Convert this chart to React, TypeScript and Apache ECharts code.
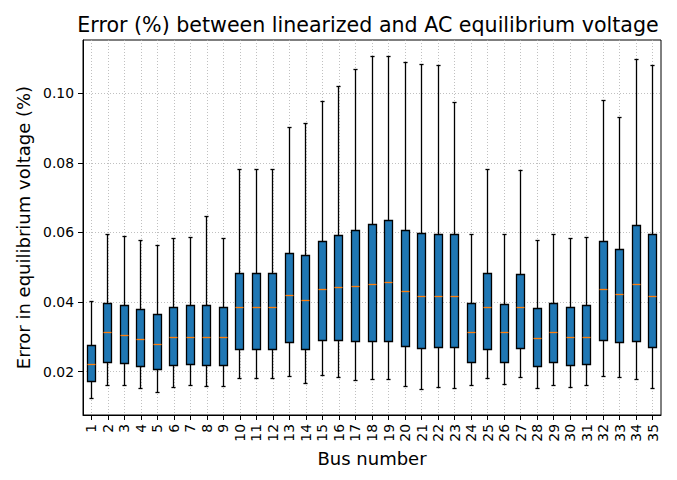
import React, { useEffect, useRef } from "react";
import * as echarts from "echarts";

const buses = [1, 2, 3, 4, 5, 6, 7, 8, 9, 10, 11, 12, 13, 14, 15, 16, 17, 18, 19, 20, 21, 22, 23, 24, 25, 26, 27, 28, 29, 30, 31, 32, 33, 34, 35];

const whiskerLow = [0.0123, 0.0161, 0.0161, 0.0151, 0.0141, 0.0155, 0.0161, 0.0158, 0.0158, 0.0181, 0.0181, 0.0181, 0.0187, 0.0166, 0.0189, 0.0184, 0.0175, 0.0178, 0.0178, 0.0158, 0.0149, 0.0155, 0.0152, 0.0161, 0.0181, 0.0164, 0.0184, 0.0152, 0.0161, 0.0155, 0.0161, 0.0187, 0.0184, 0.0178, 0.0152];
const quartile1 = [0.0172, 0.0227, 0.0224, 0.0215, 0.0207, 0.0218, 0.0221, 0.0218, 0.0218, 0.0264, 0.0264, 0.0264, 0.0284, 0.0264, 0.0290, 0.0290, 0.0287, 0.0287, 0.0287, 0.0273, 0.0267, 0.0270, 0.0270, 0.0227, 0.0264, 0.0227, 0.0267, 0.0215, 0.0227, 0.0218, 0.0221, 0.0290, 0.0284, 0.0287, 0.0270];
const median = [0.0221, 0.0313, 0.0304, 0.0293, 0.0279, 0.0299, 0.0299, 0.0299, 0.0299, 0.0385, 0.0385, 0.0385, 0.0419, 0.0405, 0.0437, 0.0442, 0.0445, 0.0451, 0.0457, 0.0431, 0.0416, 0.0416, 0.0416, 0.0313, 0.0385, 0.0313, 0.0385, 0.0296, 0.0313, 0.0299, 0.0299, 0.0437, 0.0422, 0.0451, 0.0416];
const quartile3 = [0.0276, 0.0396, 0.0391, 0.0379, 0.0365, 0.0385, 0.0391, 0.0391, 0.0385, 0.0483, 0.0483, 0.0483, 0.0540, 0.0533, 0.0575, 0.0592, 0.0606, 0.0623, 0.0635, 0.0606, 0.0598, 0.0595, 0.0595, 0.0396, 0.0483, 0.0394, 0.0480, 0.0382, 0.0396, 0.0385, 0.0391, 0.0575, 0.0552, 0.0621, 0.0595];
const whiskerHigh = [0.0401, 0.0595, 0.0589, 0.0577, 0.0563, 0.0583, 0.0586, 0.0646, 0.0583, 0.0781, 0.0781, 0.0781, 0.0902, 0.0914, 0.0977, 0.1020, 0.1069, 0.1107, 0.1107, 0.1089, 0.1083, 0.1080, 0.0974, 0.0595, 0.0781, 0.0595, 0.0779, 0.0577, 0.0595, 0.0583, 0.0586, 0.0980, 0.0931, 0.1098, 0.1080];

const yTicks = [0.02, 0.04, 0.06, 0.08, 0.1];

const FONT = "DejaVu Sans";

export default function App() {
  const ref = useRef<HTMLDivElement>(null);
  useEffect(() => {
    if (!ref.current) return;
    const chart = echarts.init(ref.current, null, { renderer: "svg" });
    const data = buses.map((b, i) => [b, whiskerLow[i], quartile1[i], median[i], quartile3[i], whiskerHigh[i]]);
    const gridLine = { show: true, lineStyle: { type: [1, 2], color: "#b0b0b0", width: 0.8 } };
    chart.setOption({
      animation: false,
      backgroundColor: "#ffffff",
      title: {
        text: "Error (%) between linearized and AC equilibrium voltage",
        left: 363,
        top: 9,
        textAlign: "center",
        textStyle: { fontFamily: FONT, fontSize: 20.6, fontWeight: "normal", color: "#000" },
      },
      grid: { left: 83, right: 16, top: 40, bottom: 65, show: true, borderColor: "#000", borderWidth: 1, backgroundColor: "transparent" },
      xAxis: {
        type: "value",
        min: 0.5,
        max: 35.5,
        name: "Bus number",
        nameLocation: "middle",
        nameGap: 32,
        nameTextStyle: { fontFamily: FONT, fontSize: 18, color: "#000" },
        axisLine: { onZero: false, lineStyle: { color: "#000", width: 1 } },
        axisTick: { customValues: buses, length: 5, lineStyle: { color: "#000", width: 1 } },
        axisLabel: { customValues: buses, rotate: 90, margin: 9, fontFamily: FONT, fontSize: 13.9, color: "#000", formatter: (v: number) => String(v) },
        splitLine: gridLine,
      },
      yAxis: {
        type: "value",
        min: 0.0075,
        max: 0.1153,
        name: "Error in equilibrium voltage (%)",
        nameLocation: "middle",
        nameGap: 45,
        nameTextStyle: { fontFamily: FONT, fontSize: 18, color: "#000" },
        axisLine: { show: true, onZero: false, lineStyle: { color: "#000", width: 1 } },
        axisTick: { show: true, customValues: yTicks, length: 5, lineStyle: { color: "#000", width: 1 } },
        axisLabel: { customValues: yTicks, margin: 9, fontFamily: FONT, fontSize: 13.9, color: "#000", formatter: (v: number) => v.toFixed(2) },
        splitLine: gridLine,
      },
      series: [
        {
          type: "custom",
          data,
          encode: { x: 0, y: [1, 2, 3, 4, 5] },
          renderItem: (params: any, api: any) => {
            const snap = (v: number) => Math.round(v - 0.5) + 0.5;
            const x = api.value(0);
            const lo = api.coord([x, api.value(1)]);
            const p1 = api.coord([x, api.value(2)]);
            const pm = api.coord([x, api.value(3)]);
            const p3 = api.coord([x, api.value(4)]);
            const hi = api.coord([x, api.value(5)]);
            const bw = api.size([0.5, 0])[0];
            const cw = bw / 2;
            const cx = snap(lo[0]);
            const yLo = snap(lo[1]);
            const yHi = snap(hi[1]);
            const y1 = snap(p1[1]);
            const y3 = snap(p3[1]);
            const ym = snap(pm[1]);
            const bx0 = snap(cx - bw / 2);
            const bx1 = snap(cx + bw / 2);
            const black = { stroke: "#000", lineWidth: 1.3 };
            return {
              type: "group",
              children: [
                { type: "line", shape: { x1: cx, y1: y3, x2: cx, y2: yHi }, style: black },
                { type: "line", shape: { x1: cx, y1: y1, x2: cx, y2: yLo }, style: black },
                { type: "line", shape: { x1: cx - cw / 2, y1: yHi, x2: cx + cw / 2, y2: yHi }, style: black },
                { type: "line", shape: { x1: cx - cw / 2, y1: yLo, x2: cx + cw / 2, y2: yLo }, style: black },
                { type: "rect", shape: { x: bx0, y: y3, width: bx1 - bx0, height: y1 - y3 }, style: { fill: "#1f77b4", stroke: "#000", lineWidth: 1.3 } },
                { type: "line", shape: { x1: bx0, y1: ym, x2: bx1, y2: ym }, style: { stroke: "#ff7f0e", lineWidth: 1.3 } },
              ],
            };
          },
        },
      ],
    });
    return () => chart.dispose();
  }, []);
  return <div ref={ref} style={{ position: "absolute", left: 0, top: 0, width: 677, height: 480 }} />;
}
